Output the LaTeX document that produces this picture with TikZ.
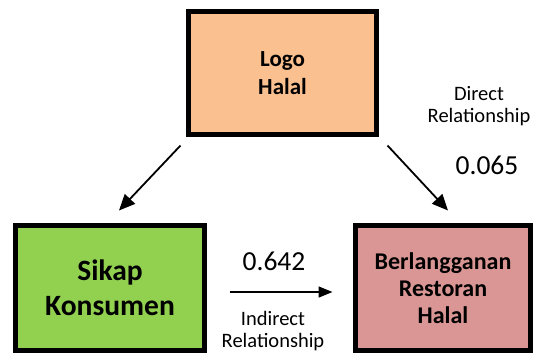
\documentclass[tikz,border=0pt]{standalone}
\usepackage{fontspec}
\setmainfont{Carlito}
\usetikzlibrary{arrows.meta}
\definecolor{peach}{HTML}{FAC08F}
\definecolor{leaf}{HTML}{92D050}
\definecolor{rose}{HTML}{D99694}
\tikzset{
  box/.style={draw=black, line width=5pt, align=center, font=\bfseries, inner sep=0pt},
  arr/.style={line width=1.8pt, -{Triangle[length=16pt,width=14pt]}},
  harr/.style={line width=1.6pt, -{Triangle[length=14pt,width=11pt]}},
  lbl/.style={align=center, inner sep=0pt, font=\fontsize{20.5}{22}\selectfont},
  num/.style={inner sep=0pt, font=\fontsize{27.5}{30}\selectfont}
}
\begin{document}
\begin{tikzpicture}[x=1pt, y=-1pt]
  \useasboundingbox (0,0) rectangle (534,354);

  % variables
  \node[box, fill=peach, minimum width=188pt, minimum height=123pt,
        font=\bfseries\fontsize{23}{28}\selectfont]
        (logo) at (282.5,73) {Logo\\Halal};
  \node[box, fill=leaf, minimum width=189pt, minimum height=125pt,
        font=\bfseries\fontsize{29.5}{35}\selectfont]
        (sikap) at (110,288) {Sikap\\Konsumen};
  \node[box, fill=rose, minimum width=175pt, minimum height=125pt,
        font=\bfseries\fontsize{24}{27}\selectfont]
        (resto) at (443,288) {Berlangganan\\Restoran\\Halal};

  % paths between variables
  \draw[arr] ([shift={(-5.5,8.5)}]logo.south west) -- ([shift={(9,-12.5)}]sikap.north);
  \draw[arr] ([shift={(8.5,8.5)}]logo.south east) -- ([shift={(5,-12.5)}]resto.north);
  \draw[harr] ([shift={(22.5,4)}]sikap.east) -- ([shift={(-20.5,4)}]resto.west);

  % coefficients and labels
  \node[num] (c1) at (274,261) {0.642};
  \node[lbl] (l1) at (273,331) {Indirect\\Relationship};
  \node[lbl] (l2) at (479,106) {Direct\\Relationship};
  \node[num] (c2) at (487,165) {0.065};
\end{tikzpicture}
\end{document}
